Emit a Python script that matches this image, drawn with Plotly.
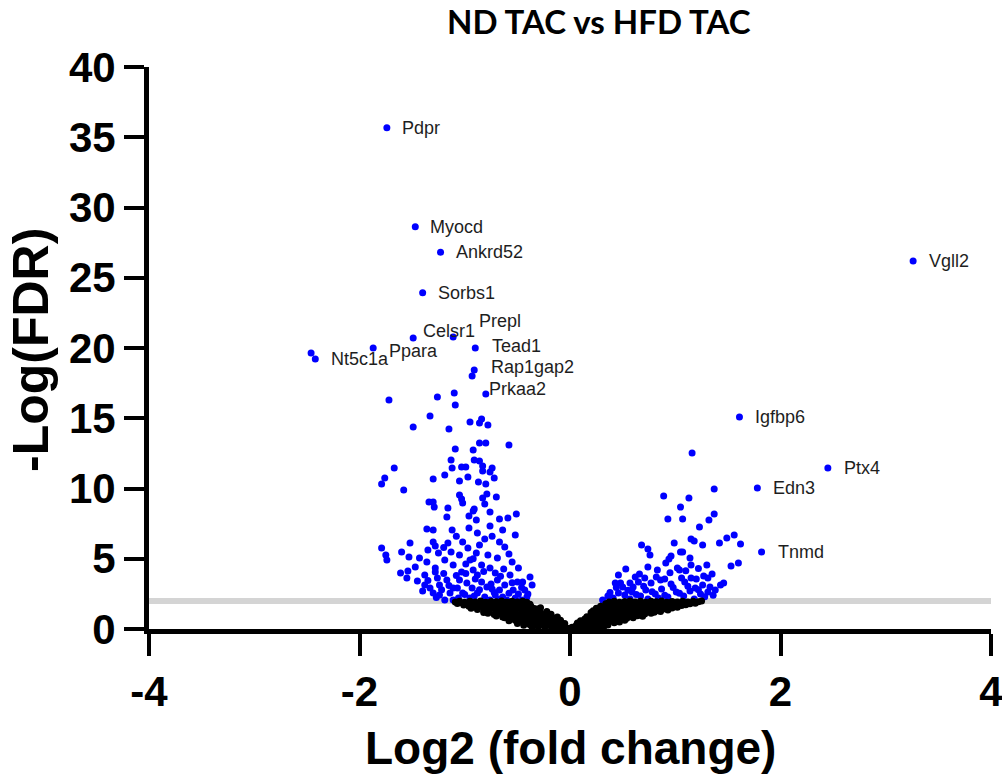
import plotly.graph_objects as go

# ---- Data: log2 fold change (x) and -log10 FDR (y) ----
title_text = "ND TAC vs HFD TAC"
x_title = "Log2 (fold change)"
y_title = "-Log(FDR)"
fdr_cutoff = 2.0
x_ticks = [-4, -2, 0, 2, 4]
x_tick_text = ["-4", "-2", "0", "2", "4"]
y_ticks = [0, 5, 10, 15, 20, 25, 30, 35, 40]

# Named genes
gene_names = ["Pdpr", "Myocd", "Ankrd52", "Sorbs1", "Celsr1", "Prepl", "Tead1",
              "Ppara", "Nt5c1a", "Rap1gap2", "Prkaa2",
              "Vgll2", "Igfbp6", "Ptx4", "Edn3", "Tnmd"]
gene_lfc = [-1.74, -1.47, -1.23, -1.40, -1.49, -1.11, -0.90,
            -1.87, -2.42, -0.91, -0.80,
            3.26, 1.61, 2.45, 1.78, 1.82]
gene_fdr = [35.68, 28.63, 26.81, 23.94, 20.71, 20.78, 20.00,
            20.00, 19.22, 18.43, 16.73,
            26.19, 15.09, 11.46, 10.04, 5.48]

# Significant, down in HFD TAC (unlabelled)
sig_down = [
    (-2.46, 19.64), (-0.93, 18.01),
    (-1.72, 16.30), (-1.26, 16.51), (-1.10, 16.80), (-1.09, 15.94), (-1.33, 15.16),
    (-1.49, 14.38), (-1.15, 14.23), (-0.95, 14.73), (-0.84, 14.95), (-0.86, 14.66),
    (-0.78, 14.52), (-0.58, 13.10), (-0.86, 13.24), (-0.80, 13.24), (-1.09, 12.81),
    (-0.92, 12.74), (-1.67, 11.46), (-1.13, 12.03), (-1.12, 11.46), (-1.19, 10.96),
    (-1.03, 11.53), (-0.99, 11.53), (-0.91, 12.03), (-0.86, 11.96), (-0.83, 11.60),
    (-0.83, 11.25), (-0.74, 11.46), (-0.76, 11.17), (-1.76, 10.75), (-1.79, 10.32),
    (-1.30, 10.68), (-0.97, 10.82), (-0.72, 10.75), (-1.58, 9.89), (-1.05, 10.53),
    (-0.87, 10.46), (-0.80, 10.32), (-1.05, 9.54), (-1.03, 9.25), (-1.02, 8.97),
    (-0.83, 9.32), (-0.79, 9.61), (-0.70, 9.40), (-1.34, 9.04), (-1.30, 9.04),
    (-1.16, 8.61), (-0.81, 8.90), (-0.91, 8.54), (-1.29, 8.68), (-1.17, 7.97),
    (-0.96, 8.04), (-0.92, 8.40), (-0.89, 7.76), (-0.76, 8.33), (-0.67, 7.83),
    (-0.59, 7.90), (-0.51, 8.19), (-0.76, 7.33), (-1.36, 7.12), (-1.30, 7.05),
    (-1.12, 7.05), (-0.96, 7.19), (-0.88, 6.83), (-0.64, 7.05), (-0.52, 6.69),
    (-1.52, 6.12), (-1.30, 6.19), (-1.28, 5.91), (-1.16, 6.12), (-1.02, 6.19),
    (-0.86, 5.98), (-0.81, 6.41), (-0.67, 6.19), (-1.79, 5.77), (-1.75, 5.27),
    (-1.74, 4.91), (-1.60, 5.48), (-1.53, 5.12), (-1.36, 4.77), (-1.43, 5.05),
    (-1.25, 5.41), (-1.13, 5.48), (-1.05, 5.27), (-0.89, 5.41), (-0.78, 5.27),
    (-0.58, 5.34), (-0.69, 5.05), (-1.61, 3.99), (-1.54, 4.13), (-1.55, 3.63),
    (-1.45, 3.42), (-1.47, 4.41), (-1.28, 4.34), (-1.28, 4.06), (-1.19, 4.91),
    (-1.11, 4.56), (-0.99, 4.63), (-0.92, 4.20), (-0.84, 4.56), (-0.76, 4.34),
    (-0.63, 4.27), (-0.57, 3.84), (-0.49, 4.34), (-0.38, 3.70), (-0.45, 3.35),
    (-1.38, 3.13), (-1.33, 2.92), (-1.26, 3.63), (-1.17, 3.49), (-1.11, 2.92),
    (-1.05, 3.49), (-0.98, 3.27), (-0.88, 3.84), (-0.84, 3.35), (-0.79, 2.99),
    (-0.69, 3.49), (-0.62, 3.13), (-0.54, 2.78), (-0.49, 2.49), (-0.41, 2.28),
    (-1.30, 2.56), (-1.24, 2.42), (-1.14, 2.56), (-1.02, 2.56), (-0.95, 2.21),
    (-0.88, 2.56), (-0.81, 2.28), (-0.71, 2.42), (-0.64, 2.28), (-1.19, 2.06),
    (-1.11, 2.06), (-0.76, 2.06), (-0.60, 2.06), (-0.46, 2.06), (-1.24, 3.13),
    (-1.07, 2.92), (-0.93, 2.92), (-0.74, 2.85), (-0.67, 2.78), (-0.50, 3.35),
    (-0.43, 2.78), (-1.03, 4.06), (-0.71, 3.99), (-0.55, 4.77), (-0.95, 4.91),
    (-1.38, 3.84), (-0.36, 3.13), (-1.35, 5.62), (-0.97, 5.77), (-0.62, 5.84),
    (-1.40, 2.70), (-1.35, 3.45), (-1.22, 2.80), (-1.20, 3.95), (-1.15, 3.10),
    (-1.08, 3.80), (-1.00, 2.45), (-0.99, 3.95), (-0.90, 3.55), (-0.86, 2.80),
    (-0.82, 4.10), (-0.75, 3.20), (-0.72, 2.60), (-0.66, 3.75), (-0.58, 2.55),
    (-0.55, 3.30), (-0.52, 2.20), (-0.46, 2.95), (-0.40, 2.50), (-1.27, 2.25),
    (-1.06, 2.20), (-0.91, 2.35), (-0.68, 2.10), (-1.20, 5.80), (-0.74, 6.60),
    (-1.08, 6.60), (-0.92, 5.00),
]

# Significant, up in HFD TAC (unlabelled)
sig_up = [
    (1.16, 12.53), (1.37, 9.96), (0.89, 9.47), (1.13, 9.32), (1.05, 8.68),
    (1.37, 8.19), (1.32, 7.76), (0.93, 7.83), (1.07, 7.83), (1.23, 7.26),
    (1.15, 6.41), (1.18, 6.26), (0.99, 6.12), (1.26, 5.98), (1.42, 6.12),
    (1.49, 6.48), (1.56, 6.69), (1.62, 6.05), (1.53, 4.48), (1.60, 4.70),
    (0.68, 5.98), (0.74, 5.69), (0.76, 5.27), (1.05, 5.48), (1.07, 5.48),
    (0.96, 5.20), (0.94, 4.98), (1.14, 5.05), (1.15, 4.56), (0.91, 4.70),
    (0.53, 4.27), (0.74, 4.41), (1.02, 4.34), (1.04, 4.20), (0.83, 4.20),
    (0.46, 3.84), (0.66, 3.91), (0.82, 3.70), (0.90, 3.56), (1.06, 3.63),
    (1.15, 3.63), (1.20, 3.56), (1.27, 3.77), (1.35, 3.91), (1.31, 3.63),
    (0.48, 3.27), (0.65, 3.35), (0.77, 3.27), (0.96, 3.20), (1.19, 2.92),
    (1.33, 2.99), (1.46, 3.27), (0.50, 2.99), (0.60, 2.99), (0.46, 2.56),
    (0.41, 2.21), (0.31, 2.06), (0.36, 2.35), (0.52, 2.42), (0.59, 2.63),
    (0.67, 2.35), (0.72, 2.78), (0.81, 2.49), (0.87, 2.85), (0.93, 2.28),
    (1.01, 2.63), (1.08, 2.35), (1.14, 2.70), (1.24, 2.49), (1.31, 2.63),
    (1.38, 2.78), (1.26, 3.13), (0.86, 3.49), (0.71, 3.63), (1.09, 3.35),
    (1.43, 3.13), (0.43, 3.27), (0.57, 3.27), (0.84, 2.21), (0.74, 2.14),
    (0.57, 2.14), (1.18, 2.14),
    (0.38, 2.60), (0.44, 2.95), (0.55, 2.75), (0.63, 2.45), (0.70, 3.05),
    (0.78, 2.65), (0.90, 2.40), (0.98, 2.95), (1.04, 2.55), (1.12, 3.05),
    (1.22, 2.80), (1.28, 2.30), (1.36, 2.40), (0.62, 3.70), (0.95, 4.00),
    (1.10, 4.15), (1.22, 4.30), (1.30, 4.55),
]

# Not significant (FDR below cutoff)
not_sig = [
    # down side
    (-1.09, 1.92), (-1.05, 1.97), (-1.00, 1.90), (-0.95, 1.98), (-0.90, 1.93),
    (-0.85, 1.99), (-0.80, 1.91), (-0.75, 1.96), (-0.70, 1.94), (-0.65, 1.99),
    (-0.60, 1.92), (-0.55, 1.97), (-0.50, 1.93), (-0.45, 1.98), (-0.41, 1.90),
    (-1.07, 1.82), (-1.02, 1.85), (-0.97, 1.79), (-0.92, 1.84), (-0.87, 1.80),
    (-0.82, 1.86), (-0.77, 1.81), (-0.72, 1.83), (-0.67, 1.78), (-0.62, 1.85),
    (-0.57, 1.80), (-0.52, 1.84), (-0.47, 1.79), (-0.42, 1.83), (-0.38, 1.77),
    (-1.01, 1.70), (-0.96, 1.62), (-0.90, 1.68), (-0.84, 1.60), (-0.78, 1.72),
    (-0.72, 1.63), (-0.66, 1.69), (-0.60, 1.58), (-0.54, 1.71), (-0.48, 1.64),
    (-0.42, 1.67), (-0.37, 1.60), (-0.94, 1.48), (-0.88, 1.53), (-0.81, 1.46),
    (-0.75, 1.52), (-0.69, 1.49), (-0.63, 1.54), (-0.57, 1.45), (-0.51, 1.50),
    (-0.45, 1.47), (-0.39, 1.53), (-0.34, 1.46), (-0.88, 1.38), (-0.82, 1.30),
    (-0.76, 1.40), (-0.70, 1.33), (-0.64, 1.36), (-0.58, 1.28), (-0.52, 1.39),
    (-0.46, 1.31), (-0.40, 1.36), (-0.35, 1.29), (-0.31, 1.42), (-0.82, 1.18),
    (-0.77, 1.24), (-0.70, 1.16), (-0.64, 1.22), (-0.58, 1.15), (-0.52, 1.21),
    (-0.46, 1.17), (-0.40, 1.23), (-0.34, 1.14), (-0.28, 1.20), (-0.78, 1.12),
    (-0.72, 1.03), (-0.66, 1.08), (-0.60, 0.99), (-0.54, 1.10), (-0.48, 1.02),
    (-0.42, 1.07), (-0.36, 0.98), (-0.30, 1.06), (-0.25, 1.00), (-0.70, 0.92),
    (-0.64, 0.86), (-0.58, 0.93), (-0.52, 0.88), (-0.46, 0.91), (-0.40, 0.85),
    (-0.34, 0.92), (-0.28, 0.87), (-0.23, 0.90), (-0.19, 0.94), (-0.62, 0.80),
    (-0.56, 0.72), (-0.50, 0.78), (-0.44, 0.70), (-0.38, 0.76), (-0.32, 0.68),
    (-0.26, 0.74), (-0.21, 0.71), (-0.16, 0.78), (-0.58, 0.58), (-0.52, 0.62),
    (-0.46, 0.56), (-0.40, 0.61), (-0.34, 0.57), (-0.28, 0.63), (-0.23, 0.55),
    (-0.18, 0.60), (-0.13, 0.58), (-0.50, 0.40), (-0.44, 0.46), (-0.38, 0.38),
    (-0.32, 0.44), (-0.26, 0.40), (-0.20, 0.47), (-0.15, 0.42), (-0.10, 0.45),
    (-0.07, 0.36), (-0.44, 0.26), (-0.38, 0.30), (-0.32, 0.25), (-0.26, 0.31),
    (-0.20, 0.27), (-0.14, 0.29), (-0.10, 0.24), (-0.05, 0.22), (-0.36, 0.10),
    (-0.30, 0.17), (-0.24, 0.12), (-0.18, 0.19), (-0.13, 0.13), (-0.08, 0.18),
    (-0.04, 0.10), (0.00, 0.05), (0.02, 0.12), (-0.28, 1.52), (-0.22, 1.25),
    (-0.18, 1.05), (-0.12, 0.85), (-0.09, 0.62), (-0.05, 0.40),
    # up side
    (0.37, 1.93), (0.42, 1.98), (0.47, 1.91), (0.52, 1.96), (0.57, 1.99),
    (0.62, 1.92), (0.67, 1.97), (0.72, 1.90), (0.77, 1.98), (0.82, 1.94),
    (0.87, 1.99), (0.92, 1.91), (0.97, 1.96), (1.02, 1.93), (1.07, 1.98),
    (1.12, 1.92), (1.17, 1.97), (1.22, 1.94), (1.25, 1.99), (0.34, 1.80),
    (0.39, 1.85), (0.44, 1.79), (0.49, 1.84), (0.54, 1.81), (0.59, 1.86),
    (0.64, 1.80), (0.69, 1.83), (0.74, 1.78), (0.79, 1.85), (0.84, 1.81),
    (0.89, 1.84), (0.94, 1.79), (0.99, 1.86), (1.04, 1.82), (1.09, 1.85),
    (1.14, 1.80), (1.19, 1.84), (0.29, 1.62), (0.34, 1.70), (0.40, 1.64),
    (0.46, 1.71), (0.52, 1.60), (0.58, 1.68), (0.64, 1.63), (0.70, 1.72),
    (0.76, 1.61), (0.82, 1.69), (0.88, 1.64), (0.94, 1.70), (1.00, 1.62),
    (1.06, 1.68), (1.10, 1.72), (0.25, 1.47), (0.31, 1.52), (0.37, 1.46),
    (0.43, 1.53), (0.49, 1.48), (0.55, 1.51), (0.61, 1.45), (0.67, 1.52),
    (0.73, 1.49), (0.79, 1.54), (0.85, 1.47), (0.91, 1.52), (0.97, 1.49),
    (1.02, 1.55), (0.22, 1.30), (0.28, 1.38), (0.34, 1.31), (0.40, 1.40),
    (0.46, 1.33), (0.52, 1.37), (0.58, 1.29), (0.64, 1.39), (0.70, 1.32),
    (0.76, 1.36), (0.82, 1.30), (0.88, 1.41), (0.93, 1.35), (0.20, 1.18),
    (0.26, 1.23), (0.32, 1.16), (0.38, 1.22), (0.44, 1.19), (0.50, 1.24),
    (0.56, 1.17), (0.62, 1.21), (0.68, 1.15), (0.74, 1.22), (0.80, 1.19),
    (0.86, 1.24), (0.20, 1.00), (0.25, 1.08), (0.30, 1.01), (0.35, 1.09),
    (0.41, 0.98), (0.47, 1.06), (0.53, 1.02), (0.59, 1.10), (0.65, 1.00),
    (0.71, 1.07), (0.77, 1.12), (0.16, 0.88), (0.22, 0.93), (0.28, 0.86),
    (0.34, 0.92), (0.40, 0.89), (0.46, 0.94), (0.52, 0.87), (0.58, 0.91),
    (0.64, 0.95), (0.69, 0.90), (0.14, 0.72), (0.19, 0.78), (0.24, 0.70),
    (0.30, 0.77), (0.36, 0.71), (0.42, 0.79), (0.48, 0.73), (0.54, 0.76),
    (0.60, 0.80), (0.10, 0.58), (0.16, 0.62), (0.22, 0.56), (0.28, 0.61),
    (0.34, 0.57), (0.40, 0.63), (0.46, 0.59), (0.52, 0.62), (0.07, 0.42),
    (0.12, 0.47), (0.18, 0.40), (0.24, 0.46), (0.30, 0.41), (0.36, 0.48),
    (0.42, 0.44), (0.47, 0.50), (0.06, 0.26), (0.11, 0.31), (0.16, 0.25),
    (0.21, 0.30), (0.26, 0.27), (0.31, 0.32), (0.36, 0.28), (0.04, 0.12),
    (0.08, 0.18), (0.13, 0.10), (0.18, 0.17), (0.23, 0.13), (0.28, 0.19),
    (0.32, 0.14),
]

# ---- Styling ----
BLUE = "#0000FF"
BLACK = "#000000"
AXIS_FONT = "Liberation Sans, Arial, sans-serif"
LABEL_FONT = "Liberation Sans, Arial, sans-serif"
TITLE_FONT = "Lato, Open Sans, sans-serif"
DOT = 7

# Pixel offsets of the gene labels relative to their points
label_offsets = {
    "Pdpr": (13, 0), "Myocd": (13, 0), "Ankrd52": (13, 0), "Sorbs1": (13, 0),
    "Celsr1": (8, 7), "Prepl": (24, 16), "Tead1": (15, 2), "Ppara": (14, -3),
    "Nt5c1a": (14, 0), "Rap1gap2": (15, 3), "Prkaa2": (1, 5),
    "Vgll2": (14, 0), "Igfbp6": (14, 0), "Ptx4": (14, 0), "Edn3": (14, 0),
    "Tnmd": (14, 0),
}

fig = go.Figure()

blue_x = [p[0] for p in sig_down] + [p[0] for p in sig_up] + gene_lfc
blue_y = [p[1] for p in sig_down] + [p[1] for p in sig_up] + gene_fdr

fig.add_trace(go.Scatter(
    x=blue_x, y=blue_y, mode="markers",
    marker=dict(color=BLUE, size=DOT, line=dict(width=0)),
    cliponaxis=False, showlegend=False, hoverinfo="skip"))

fig.add_trace(go.Scatter(
    x=[p[0] for p in not_sig], y=[p[1] for p in not_sig], mode="markers",
    marker=dict(color=BLACK, size=DOT, line=dict(width=0)),
    cliponaxis=False, showlegend=False, hoverinfo="skip"))

# FDR threshold line
fig.add_shape(type="line", xref="x", yref="y", x0=x_ticks[0], x1=x_ticks[-1],
              y0=fdr_cutoff, y1=fdr_cutoff, layer="below",
              line=dict(color="#d4d4d4", width=6))

annotations = []
for name, gx, gy in zip(gene_names, gene_lfc, gene_fdr):
    dx, dy = label_offsets[name]
    annotations.append(dict(
        x=gx, y=gy, xref="x", yref="y", text=name, showarrow=False,
        xanchor="left", yanchor="middle", xshift=dx, yshift=dy,
        font=dict(family=LABEL_FONT, size=18, color="#1e1e1e")))

annotations.append(dict(
    x=0.534, y=1.082, xref="paper", yref="paper", text=title_text,
    showarrow=False, xanchor="center", yanchor="middle",
    font=dict(family=TITLE_FONT, size=33, color="black", weight="bold")))
annotations.append(dict(
    x=0.5, y=-0.212, xref="paper", yref="paper", text=x_title,
    showarrow=False, xanchor="center", yanchor="middle",
    font=dict(family=AXIS_FONT, size=46, color="black", weight="bold")))
annotations.append(dict(
    x=-0.141, y=0.497, xref="paper", yref="paper", text=y_title,
    showarrow=False, xanchor="center", yanchor="middle", textangle=-90,
    font=dict(family=AXIS_FONT, size=50, color="black", weight="bold")))

fig.update_layout(
    width=1002, height=780,
    margin=dict(l=149, r=11, t=67, b=151, autoexpand=False),
    paper_bgcolor="white", plot_bgcolor="white",
    annotations=annotations,
    xaxis=dict(
        range=[x_ticks[0], x_ticks[-1]], tickmode="array",
        tickvals=x_ticks, ticktext=x_tick_text,
        ticks="outside", ticklen=22, tickwidth=4, tickcolor="black",
        showline=True, linewidth=5, linecolor="black",
        showgrid=False, zeroline=False, automargin=False,
        ticklabeloverflow="allow",
        tickfont=dict(family=AXIS_FONT, size=42, color="black", weight="bold"),
    ),
    yaxis=dict(
        range=[y_ticks[0], y_ticks[-1]], tickmode="array", tickvals=y_ticks,
        ticks="outside", ticklen=20, tickwidth=4, tickcolor="black",
        showline=True, linewidth=5, linecolor="black",
        showgrid=False, zeroline=False, automargin=False,
        tickfont=dict(family=AXIS_FONT, size=42, color="black", weight="bold"),
    ),
)

fig.write_html("out.html")
